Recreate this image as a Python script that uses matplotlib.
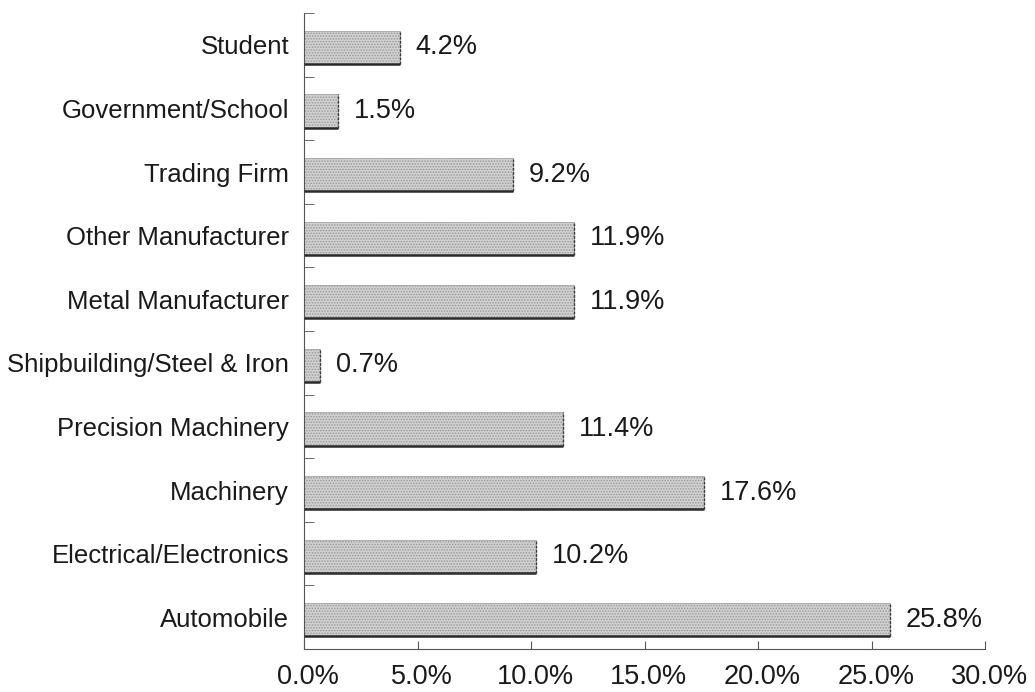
import matplotlib
matplotlib.use("Agg")
import matplotlib.pyplot as plt
from matplotlib.ticker import FixedLocator
from matplotlib.transforms import ScaledTranslation

categories = ["Student", "Government/School", "Trading Firm", "Other Manufacturer",
              "Metal Manufacturer", "Shipbuilding/Steel & Iron", "Precision Machinery",
              "Machinery", "Electrical/Electronics", "Automobile"]
values = [4.2, 1.5, 9.2, 11.9, 11.9, 0.7, 11.4, 17.6, 10.2, 25.8]
xticks = [0, 5, 10, 15, 20, 25, 30]
xtick_labels = ["0.0%", "5.0%", "10.0%", "15.0%", "20.0%", "25.0%", "30.0%"]

plt.rcParams['font.family'] = ['Liberation Sans', 'DejaVu Sans']
plt.rcParams['hatch.color'] = '#505050'
plt.rcParams['hatch.linewidth'] = 0.7

fig = plt.figure(figsize=(10.35, 6.92), dpi=100)
ax = fig.add_axes([0.294, 0.0621, 0.658, 0.919])

n = len(categories)
ypos = list(range(n))[::-1]  # Student at top
h = 0.52
bar_y = [y - 0.04 for y in ypos]
bars = ax.barh(bar_y, values, height=h, color='#d0d0d0', hatch='......',
               edgecolor='#9a9a9a', linewidth=0.5, zorder=2)
for b, v in zip(bars, values):
    y0 = b.get_y()
    # dark bottom shadow and right edge
    ax.plot([0, v], [y0, y0], color='#2a2a2a', lw=1.8, zorder=3, solid_capstyle='butt')
    ax.plot([v, v], [y0, y0 + h], color='#3a3a3a', lw=1.0, ls=(0, (2, 1)), zorder=3)
    ax.text(v + 0.7, y0 + h / 2, f"{v:.1f}%", va='center', ha='left',
            fontsize=19.5, color='#1a1a1a')

ax.set_ylim(-0.5, n - 0.5)
ax.set_xlim(0, 30)
ax.set_yticks(ypos)
ax.set_yticklabels(categories, fontsize=18.5, color='#1a1a1a')
ax.tick_params(axis='y', length=0, pad=11)
ax.yaxis.set_minor_locator(FixedLocator([i - 0.5 for i in range(n + 1)]))
ax.tick_params(axis='y', which='minor', length=7, direction='in', color='#555555')

ax.set_xticks(xticks)
ax.set_xticklabels(xtick_labels, fontsize=19.5, color='#1a1a1a')
ax.tick_params(axis='x', length=6, direction='in', color='#555555', pad=11)
shift = ScaledTranslation(4 / 100, 0, fig.dpi_scale_trans)
for lab in ax.get_xticklabels():
    lab.set_transform(lab.get_transform() + shift)

for s in ['top', 'right']:
    ax.spines[s].set_visible(False)
for s in ['left', 'bottom']:
    ax.spines[s].set_color('#555555')
    ax.spines[s].set_linewidth(0.8)

fig.savefig("out.png", dpi=100)
